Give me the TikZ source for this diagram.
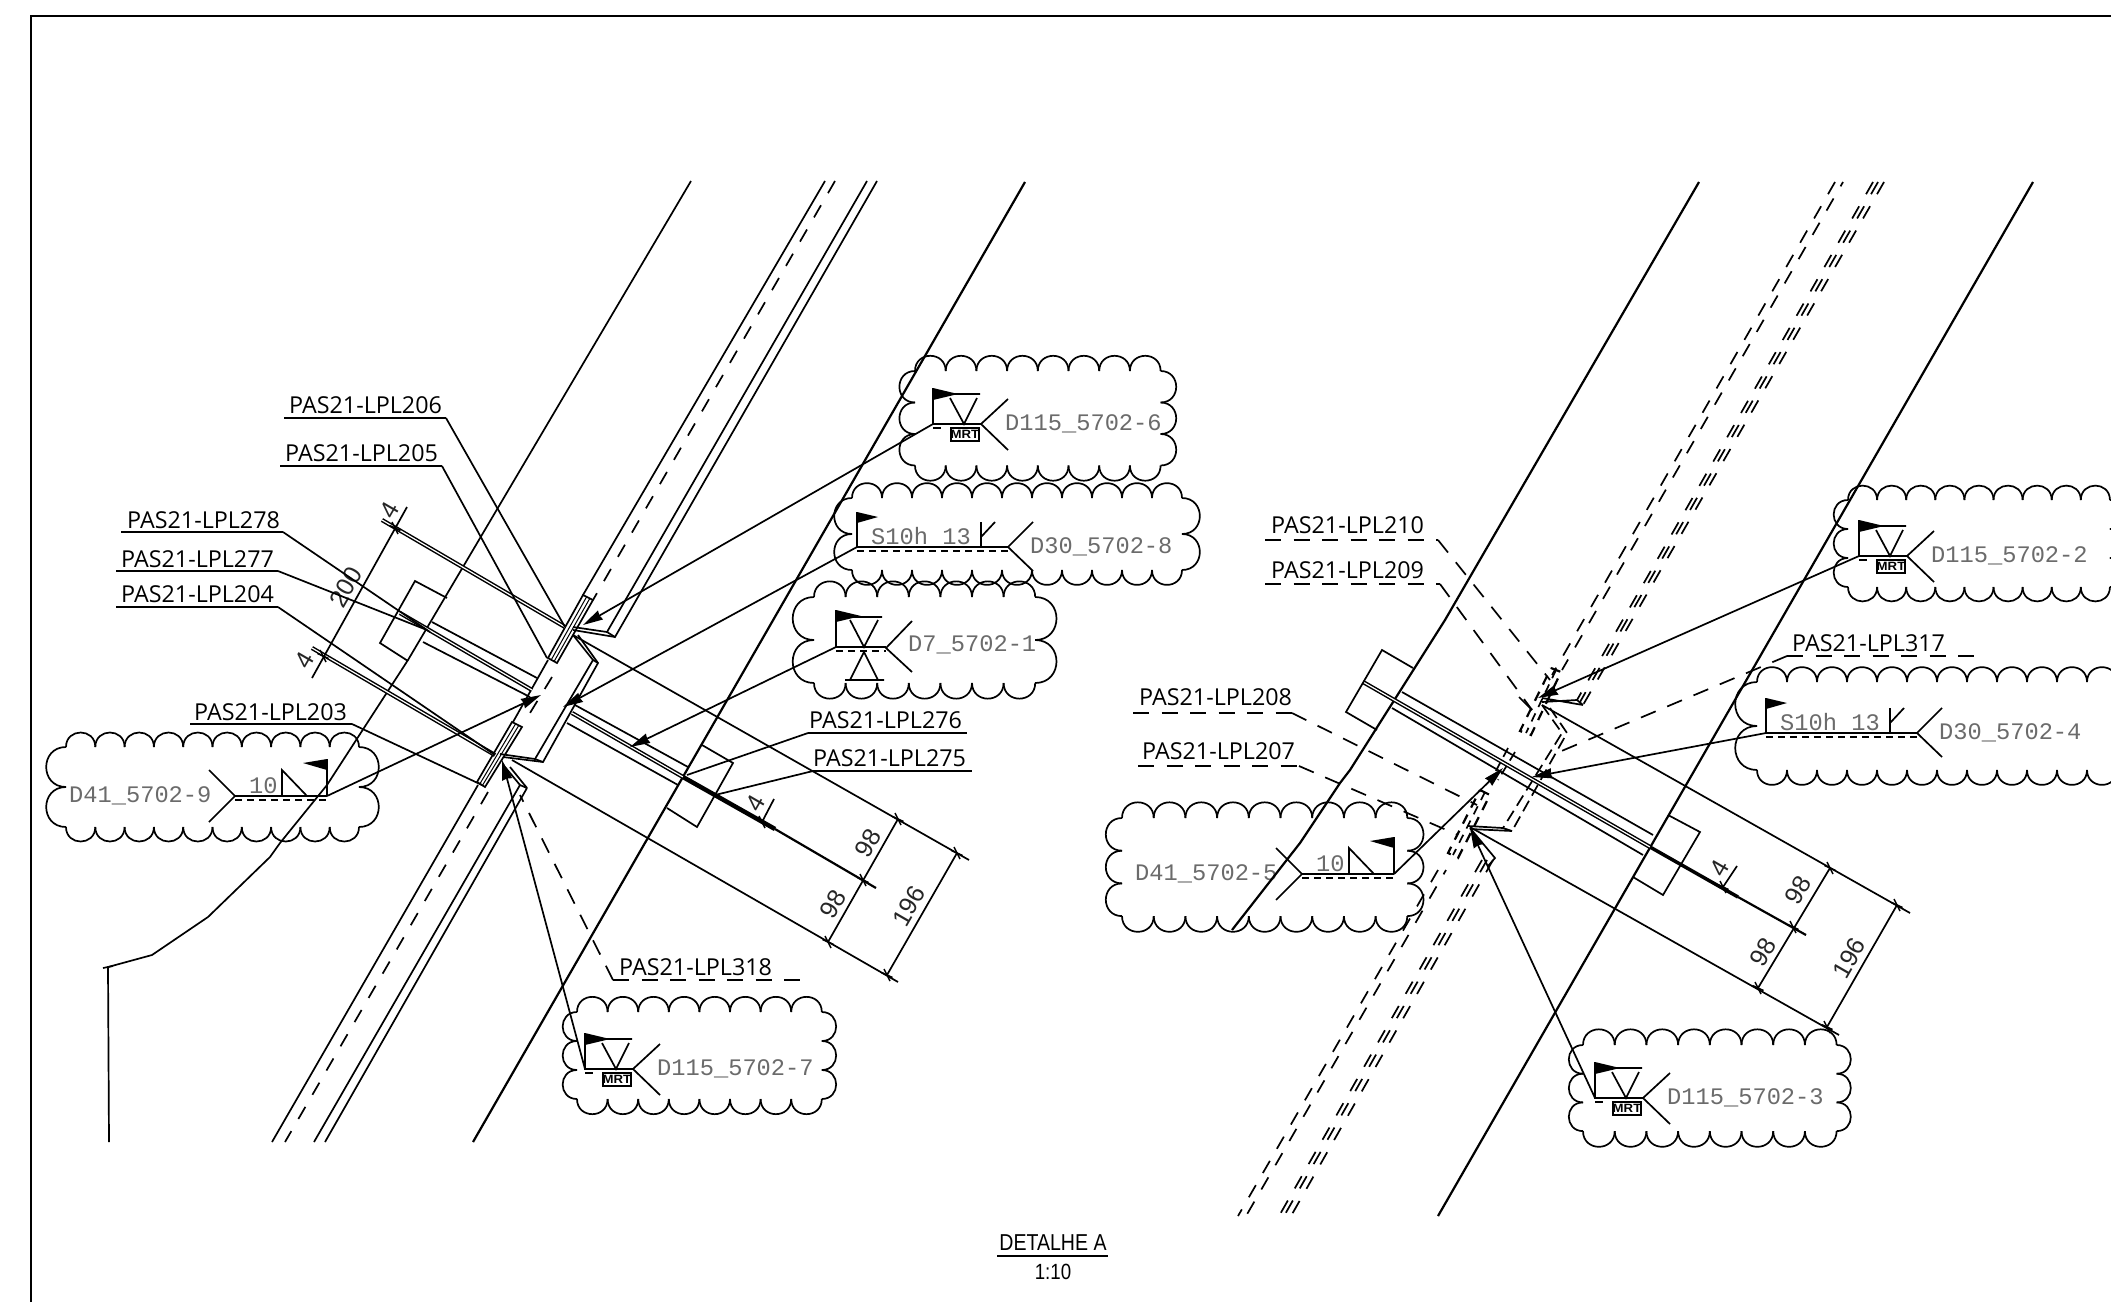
\documentclass[tikz,border=0pt]{standalone}
\usepackage{fontspec}
\usetikzlibrary{arrows.meta,calc}
\newfontfamily\lblf{Open Sans}
\newfontfamily\wmono{Liberation Mono}
\newfontfamily\dimf{Liberation Sans}
\tikzset{
  ln/.style={line width=1.7pt,black},
  thk/.style={line width=2.2pt,black},
  hvy/.style={line width=4.5pt,black},
  dbl/.style={line width=1.5pt,double,double distance=1.2pt},
  clo/.style={line width=1.7pt,black},
  hid/.style={line width=1.7pt,dash pattern=on 14pt off 14pt},
  hdl/.style={line width=1.7pt,dash pattern=on 16pt off 12.5pt},
  wdash/.style={line width=1.7pt,dash pattern=on 7pt off 5pt},
  lead/.style={line width=1.7pt,-{Stealth[length=20pt,width=10pt,inset=1pt]}},
  lab/.style={inner sep=0pt,anchor=base west,font=\lblf\fontsize{23.3}{25}\selectfont},
  mono/.style={inner sep=0pt,anchor=base west,text=black!58,font=\wmono\fontsize{23.7}{25}\selectfont},
  dimt/.style={inner sep=0pt,rotate=60,text=black!85,font=\dimf\fontsize{25}{27}\selectfont},
  mrt/.style={inner sep=0pt,xscale=1.1,font=\dimf\bfseries\fontsize{12}{13}\selectfont},
}
% x0,y0,cols,stepx,rows,stepy
\newcommand\cloudshape[6]{%
  \pgfmathsetmacro\kx{0.66*#4}\pgfmathsetmacro\ky{0.66*#6}%
  \pgfmathsetmacro\xe{#1+#3*#4}\pgfmathsetmacro\ye{#2+#5*#6}%
  \foreach \i in {1,...,#3}{%
    \draw[clo] ({#1+(\i-1)*#4},#2) .. controls +(0,-\kx) and +(0,-\kx) .. ({#1+\i*#4},#2);
    \draw[clo] ({#1+(\i-1)*#4},\ye) .. controls +(0,\kx) and +(0,\kx) .. ({#1+\i*#4},\ye);
  }%
  \foreach \i in {1,...,#5}{%
    \draw[clo] (#1,{#2+(\i-1)*#6}) .. controls +(-\ky,0) and +(-\ky,0) .. (#1,{#2+\i*#6});
    \draw[clo] (\xe,{#2+(\i-1)*#6}) .. controls +(\ky,0) and +(\ky,0) .. (\xe,{#2+\i*#6});
  }}
% name, pole x, base y, text
\newcommand\weldmrt[4]{%
  \coordinate (#1) at (#2,#3);
  \begin{scope}[shift={(#2,#3)}]
    \fill (0,-36)--(0,-24)--(25,-30)--cycle;
    \draw[thk] (0,-36)--(0,0)--(48,0);
    \draw[ln] (0,-30)--(47,-30) (17,-26)--(31,0)--(44,-26);
    \draw[ln] (75,-25)--(48,0)--(75,26);
    \draw[ln] (0,4)--(8,4);
    \draw[ln] (18,4) rectangle (46,17);
    \node[mrt] (#1m) at (32,10.5) {MRT};
    \node[mono] (#1t) at (72,6) {#4};
  \end{scope}}
% name, tail x, base y, text
\newcommand\welds[4]{%
  \coordinate (#1) at ({#2-151},#3);
  \begin{scope}[shift={(#2,#3)}]
    \fill (-151,-35)--(-151,-24)--(-130,-30)--cycle;
    \draw[thk] (-151,-35)--(-151,0)--(0,0);
    \draw[wdash] (-151,4)--(0,4);
    \draw[ln] (-27,-25)--(-27,0) (-27,-10)--(-13,-25);
    \draw[ln] (25,-25)--(0,0)--(25,24);
    \node[mono] (#1s) at (-137,-3) {S10h 13};
    \node[mono] (#1t) at (22,6) {#4};
  \end{scope}}
% name, tail apex x, base y, text
\newcommand\weldten[5]{%
  \coordinate (#1) at ({#2+92},#3);
  \begin{scope}[shift={(#2,#3)}]
    \fill (92,-37)--(92,-26)--(68,-33)--cycle;
    \draw[thk] (0,0)--(92,0) (92,-37)--(92,0);
    \draw[wdash] (0,4)--(92,4);
    \draw[ln] (47,0)--(47,-26)--(72,0);
    \draw[ln] (-26,-26)--(0,0)--(-26,26);
    \node[mono] (#1n) at (14,-3) {10};
    \node[mono] (#1t) at (#5,6) {#4};
  \end{scope}}
% name,text left,base y,line x1,x2,line y
\newcommand\plabel[7]{%
  \node[lab] (#1) at (#2,#3) {#4};
  \coordinate (#1a) at (#5,#7);
  \coordinate (#1b) at (#6,#7);
}
\newcommand\xtick[2]{%
  \draw[line width=1.5pt] ($(#1,#2)+(-3,-6)$)--($(#1,#2)+(3,6)$);
  \draw[line width=1.5pt] ($(#1,#2)+(-5.5,-2.5)$)--($(#1,#2)+(5.5,2.5)$);
}
\newcommand\hblock[4]{%
  \draw[ln] #1--#2--#3--#4--cycle;
  \foreach \f in {.36,.68}{\draw[line width=1pt] ($#1!\f!#2$)--($#4!\f!#3$);}
}
\begin{document}
\begin{tikzpicture}[x=1pt,y=-1pt]
\useasboundingbox (0,0) rectangle (2111,1302);
\clip (0,0) rectangle (2111,1302);
\fill[white] (0,0) rectangle (2111,1302);
% frame
\draw[line width=2pt] (31,1302)--(31,16)--(2111,16);
% clouds
\cloudshape{915}{371}{8}{30.7}{3}{31.5}
\cloudshape{852}{498}{11}{30}{2}{36}
\cloudshape{814}{597}{7}{31.6}{2}{43}
\cloudshape{66}{747}{10}{29.3}{2}{40}
\cloudshape{577}{1012}{8}{30.6}{3}{29}
\cloudshape{1122}{818}{9}{31.7}{3}{32.7}
\cloudshape{1848}{500}{9}{29.1}{3}{29}
\cloudshape{1757}{682}{12}{30}{2}{44}
\cloudshape{1583}{1045}{8}{31.7}{3}{28.7}
% weld symbols
\weldmrt{wA}{933}{424}{D115\_5702-6}
\welds{wB}{1008}{547}{D30\_5702-8}
\weldmrt{wG}{585}{1069}{D115\_5702-7}
\weldten{wC}{235}{796}{D41\_5702-9}{-166}
\weldten{wD}{1302}{874}{D41\_5702-5}{-167}
\weldmrt{wE}{1859}{556}{D115\_5702-2}
\welds{wF}{1917}{733}{D30\_5702-4}
\weldmrt{wH}{1595}{1098}{D115\_5702-3}
% D7 symbol
\coordinate (wI) at (836,647);
\fill (836,610)--(836,622)--(861,616)--cycle;
\draw[thk] (836,610)--(836,647)--(886,647);
\draw[ln] (836,617)--(882,617) (850,620)--(864,647)--(878,620);
\draw[wdash] (836,651)--(886,651);
\draw[ln] (850,680)--(864,652)--(878,680) (845,680)--(884,680);
\draw[ln] (912,621)--(886,648)--(912,672);
\node[mono] (wIt) at (908,651) {D7\_5702-1};
% labels
\plabel{L206}{289}{413}{PAS21-LPL206}{284}{446}{418}
\plabel{L205}{285}{461}{PAS21-LPL205}{280}{442}{466}
\plabel{L278}{127}{528}{PAS21-LPL278}{121}{283}{532}
\plabel{L277}{121}{567}{PAS21-LPL277}{116}{278}{571}
\plabel{L204}{121}{602}{PAS21-LPL204}{116}{278}{607}
\plabel{L203}{194}{720}{PAS21-LPL203}{190}{352}{724}
\plabel{L276}{809}{728}{PAS21-LPL276}{808}{967}{733}
\plabel{L275}{813}{766}{PAS21-LPL275}{813}{972}{771}
\plabel{L318}{619}{975}{PAS21-LPL318}{613}{807}{980}
\plabel{L317}{1792}{651}{PAS21-LPL317}{1787}{1978}{656}
\plabel{L210}{1271}{533}{PAS21-LPL210}{1265}{1438}{540}
\plabel{L209}{1271}{578}{PAS21-LPL209}{1265}{1440}{584}
\plabel{L208}{1139}{705}{PAS21-LPL208}{1133}{1292}{713}
\plabel{L207}{1142}{759}{PAS21-LPL207}{1138}{1299}{766}
\draw[ln] (L206a)--(L206b) (L205a)--(L205b) (L278a)--(L278b) (L277a)--(L277b) (L204a)--(L204b) (L203a)--(L203b) (L276a)--(L276b) (L275a)--(L275b);
\draw[hdl] (L318a)--(L318b);
\draw[hdl] (L317a)--(L317b);
\draw[hdl] (L210a)--(L210b);
\draw[hdl] (L209a)--(L209b);
\draw[hdl] (L208a)--(L208b);
\draw[hdl] (L207a)--(L207b);
% ===== left detail =====
\draw[ln] (691,181)--(408,660)--(327,785)--(280,843)--(270,857)--(208,917)--(152,955)--(108,967)--(109,1142);
\draw[ln] (103,968)--(113,966);
\draw[thk] (1025,182)--(473,1142);
% upper band
\draw[ln] (825,181)--(583,595);
\draw[hid] (835,181)--(593,600);
\draw[ln] (867,181)--(607,632) (877,181)--(615,637)--(607,632);
\draw[ln] (607,632)--(573,627) (615,637)--(573,630);
\hblock{(583,595)}{(593,600)}{(557,663)}{(548,658)}
% gusset mid
\draw[ln] (573,635)--(593,660)--(535,759)--(500,754);
\draw[ln] (578,635)--(598,663)--(543,762)--(503,757);
\draw[ln] (593,660)--(598,663) (535,759)--(543,762);
\draw[ln] (548,660)--(513,722);
\draw[hid] (552,677)--(530,713);
% lower band
\hblock{(512,722)}{(522,727)}{(485,787)}{(477,782)}
\draw[ln] (478,785)--(272,1142);
\draw[hid] (488,792)--(285,1142);
\draw[ln] (520,785)--(314,1142) (527,788)--(325,1142) (520,785)--(527,788);
\draw[ln] (505,767)--(520,785) (510,767)--(527,788);
% stiffener
\draw[ln] (447,598)--(415,581)--(380,643)--(408,661);
\draw[ln] (432,622)--(537,678) (423,642)--(530,697);
\draw[dbl] (400,613)--(532,690);
\draw[ln] (575,705)--(688,767) (567,723)--(678,785);
\draw[dbl] (572,713)--(683,777);
\draw[hvy] (683,777)--(775,829);
\draw[thk] (775,829)--(876,888);
\draw[ln] (702,745)--(733,763)--(697,827)--(667,808);
% extensions + dims
\draw[dbl] (382,520)--(565,627);
\draw[dbl] (312,648)--(495,755);
\draw[ln] (407,507)--(312,678);
\xtick{395}{528}\xtick{323}{656}
\node[dimt] (d4a) at (390,510) {4};
\node[dimt] (d4b) at (305,660) {4};
\node[dimt] (d200) at (346,587) {200};
\draw[ln] (573,635)--(969,860) (512,760)--(898,982);
\draw[ln] (898,819)--(828,942) (957,853)--(887,975);
\draw[ln] (762,822)--(774,799);
\xtick{898}{819}\xtick{863}{880}\xtick{828}{942}\xtick{957}{853}\xtick{887}{975}\xtick{762}{822}
\node[dimt] (d98a) at (868,843) {98};
\node[dimt] (d98b) at (833,904) {98};
\node[dimt] (d196) at (909,906) {196};
\node[dimt] (d4c) at (756,803) {4};
% left leaders
\coordinate (j206) at (565,627);
\coordinate (j205) at (547,658);
\coordinate (j278) at (430,632);
\coordinate (j277) at (427,630);
\coordinate (j204) at (495,755);
\coordinate (j203) at (482,785);
\coordinate (j276) at (687,775);
\coordinate (j275) at (715,795);
\coordinate (j318) at (520,795);
\draw[ln] (L206b)--(j206);
\draw[ln] (L205b)--(j205);
\draw[ln] (L278b)--(j278);
\draw[ln] (L277b)--(j277);
\draw[ln] (L204b)--(j204);
\draw[ln] (L203b)--(j203);
\draw[ln] (L276a)--(j276);
\draw[ln] (L275a)--(j275);
\draw[hdl] (L318a)--(j318);
\coordinate (a1) at (583,625);
\coordinate (a2) at (563,707);
\coordinate (a3) at (630,747);
\coordinate (a4) at (541,695);
\coordinate (a5) at (502,760);
\draw[lead] (wA)--(a1);
\draw[lead] (wB)--(a2);
\draw[lead] (wI)--(a3);
\draw[lead] (wC)--(a4);
\draw[lead] (wG)--(a5);
% ===== right detail =====
\draw[thk] (1699,182)--(1445,620)--(1350,770)--(1340,783)--(1300,843)--(1232,930);
\draw[thk] (2033,182)--(1438,1216);
% hidden band, upper
\draw[hid] (1835,182)--(1552,675);
\draw[hid,dash phase=9pt] (1843,182)--(1562,670);
\draw[hid] (1873,182)--(1577,700);
\draw[hid] (1878,182)--(1580,702);
\draw[hid] (1884,182)--(1583,705);
% hidden band, lower
\draw[hid] (1438,870)--(1238,1216);
\draw[hid,dash phase=9pt] (1446,870)--(1246,1216);
\draw[hid] (1482,860)--(1279,1216);
\draw[hid] (1487,860)--(1284,1216);
\draw[hid] (1493,860)--(1291,1216);
% hidden blocks
\draw[hid,dash pattern=on 10pt off 8pt,line width=2.2pt] (1551,668)--(1561,672)--(1531,735)--(1520,731)--cycle;
\draw[hid,dash pattern=on 9pt off 7pt] (1556,670)--(1526,733);
\draw[hid,dash pattern=on 10pt off 8pt,line width=2.2pt] (1480,790)--(1490,795)--(1458,858)--(1448,853)--cycle;
\draw[hid,dash pattern=on 9pt off 7pt] (1485,792)--(1453,855);
% hidden gussets
\draw[ln] (1577,700)--(1542,702) (1583,705)--(1542,698) (1577,700)--(1583,705);
\draw[hid,dash pattern=on 12pt off 6pt] (1542,705)--(1562,733)--(1503,828);
\draw[hid,dash pattern=on 12pt off 6pt] (1550,708)--(1567,733)--(1512,831);
\draw[ln] (1503,828)--(1468,826) (1512,831)--(1470,829) (1503,828)--(1512,831);
\draw[ln] (1470,828)--(1495,858)--(1488,866);
\draw[hid,dash pattern=on 10pt off 6pt] (1508,748)--(1490,782);
\draw[hid,dash pattern=on 10pt off 6pt] (1515,752)--(1498,780);
\draw[ln] (1519,697)--(1532,710);
% plate
\draw[ln] (1402,692)--(1653,835) (1392,708)--(1643,855);
\draw[dbl] (1363,682)--(1650,847);
\draw[hvy,line width=3.5pt] (1650,847)--(1738,897);
\draw[thk] (1738,897)--(1806,935);
\draw[ln] (1413,668)--(1382,650)--(1346,712)--(1377,730);
\draw[ln] (1668,815)--(1700,832)--(1663,895)--(1633,877);
\draw[ln] (1542,705)--(1910,913) (1470,827)--(1839,1035);
\draw[ln] (1830,868)--(1758,988) (1897,905)--(1827,1027);
\draw[ln] (1723,887)--(1737,866);
\xtick{1830}{868}\xtick{1793}{927}\xtick{1758}{988}\xtick{1897}{905}\xtick{1827}{1027}\xtick{1723}{887}
\node[dimt] (e98a) at (1798,890) {98};
\node[dimt] (e98b) at (1763,952) {98};
\node[dimt] (e196) at (1849,958) {196};
\node[dimt] (e4) at (1720,868) {4};
% right leaders
\coordinate (k317) at (1552,755);
\coordinate (k210) at (1550,680);
\coordinate (k209) at (1532,710);
\coordinate (k208) at (1477,805);
\coordinate (k207) at (1458,835);
\draw[hdl] (L317a)--(k317);
\draw[hdl] (L210b)--(k210);
\draw[hdl] (L209b)--(k209);
\draw[hdl] (L208b)--(k208);
\draw[hdl] (L207b)--(k207);
\coordinate (b1) at (1538,698);
\coordinate (b2) at (1532,777);
\coordinate (b3) at (1503,768);
\coordinate (b4) at (1470,828);
\draw[lead] (wE)--(b1);
\draw[lead] (wF)--(b2);
\draw[lead] (wD)--(b3);
\draw[lead] (wH)--(b4);
% title
\node[inner sep=0pt,anchor=base,xscale=.85,font=\dimf\fontsize{23}{25}\selectfont] (title) at (1053,1250) {DETALHE A};
\coordinate (tl) at (997,1256);
\coordinate (tr) at (1108,1256);
\draw[ln] (tl)--(tr);
\node[inner sep=0pt,anchor=base,xscale=.85,font=\dimf\fontsize{22}{24}\selectfont] (scale) at (1053,1279) {1:10};
\end{tikzpicture}
\end{document}
